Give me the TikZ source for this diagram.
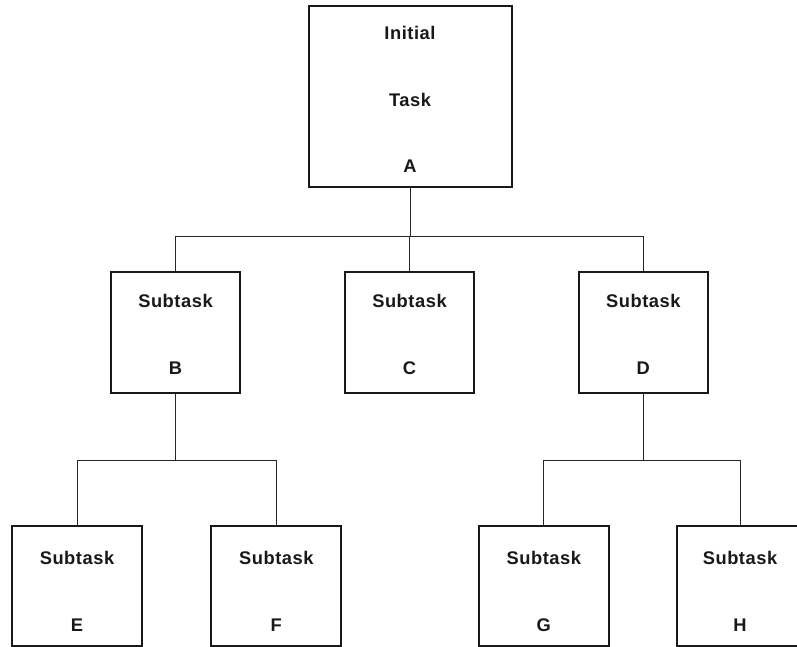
\documentclass[tikz,border=0pt]{standalone}
\usepackage{fontspec}
\setmainfont{Liberation Sans}[LetterSpace=3]
\begin{document}
\begin{tikzpicture}[x=1pt,y=-1pt,
  box/.style={draw=black!90, line width=2pt, rectangle, inner sep=0pt},
  lbl/.style={inner sep=0pt, font=\fontsize{18.3}{20}\selectfont\bfseries, text=black!90},
  conn/.style={draw=black!85, line width=1pt}]
\useasboundingbox[fill=white] (0,0) rectangle (797,647);
% boxes
\node[box, minimum width=203, minimum height=181] (A) at (410,97) {};
\node[box, minimum width=129, minimum height=121] (B) at (175.5,332.7) {};
\node[box, minimum width=129, minimum height=121] (C) at (409.5,332.7) {};
\node[box, minimum width=129, minimum height=121] (D) at (643.3,332.7) {};
\node[box, minimum width=129.7, minimum height=120] (E) at (77,586) {};
\node[box, minimum width=129.7, minimum height=120] (F) at (276.3,586) {};
\node[box, minimum width=129.7, minimum height=120] (G) at (543.8,586) {};
\node[box, minimum width=129.7, minimum height=120] (H) at (742.3,586) {};
% labels
\node[lbl] (a1) at (410,33) {Initial};
\node[lbl] (a2) at (410,99.5) {Task};
\node[lbl] (a3) at (410,166) {A};
\node[lbl] (b1) at (175.5,301) {Subtask};
\node[lbl] (b2) at (175.5,368.5) {B};
\node[lbl] (c1) at (409.5,301) {Subtask};
\node[lbl] (c2) at (409.5,368.5) {C};
\node[lbl] (d1) at (643.3,301) {Subtask};
\node[lbl] (d2) at (643.3,368.5) {D};
\node[lbl] (e1) at (77,558.3) {Subtask};
\node[lbl] (e2) at (77,625.3) {E};
\node[lbl] (f1) at (276.3,558.3) {Subtask};
\node[lbl] (f2) at (276.3,625.3) {F};
\node[lbl] (g1) at (543.8,558.3) {Subtask};
\node[lbl] (g2) at (543.8,625.3) {G};
\node[lbl] (h1) at (740,558.3) {Subtask};
\node[lbl] (h2) at (740,625.3) {H};
% junctions
\coordinate (jA) at (A.south |- 0,236);
\coordinate (jB) at (B.south |- 0,460.7);
\coordinate (jD) at (D.south |- 0,460.7);
% connectors
\draw[conn] (A.south) -- (jA);
\draw[conn] (B.north) -- (B.north |- jA) -- (D.north |- jA) -- (D.north);
\draw[conn] (C.north) -- (C.north |- jA);
\draw[conn] (B.south) -- (jB);
\draw[conn] (E.north) -- (E.north |- jB) -- (F.north |- jB) -- (F.north);
\draw[conn] (D.south) -- (jD);
\draw[conn] (G.north) -- (G.north |- jD) -- (h1.center |- jD) -- (h1.center |- H.north);
\end{tikzpicture}
\end{document}
